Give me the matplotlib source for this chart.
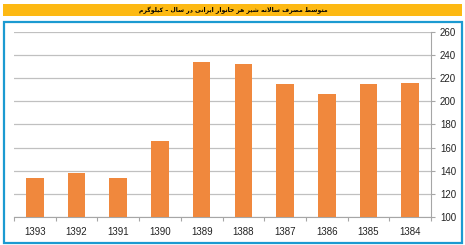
import matplotlib
matplotlib.use("Agg")
import matplotlib.pyplot as plt
from matplotlib.patches import Rectangle

# data
years = ["1393", "1392", "1391", "1390", "1389", "1388", "1387", "1386", "1385", "1384"]
milk_kg = [134, 138, 134, 166, 234, 232, 215, 206, 215, 216]
y_ticks = [100, 120, 140, 160, 180, 200, 220, 240, 260]
title = "متوسط مصرف سالانه شیر هر خانوار ایرانی در سال – کیلوگرم"


# matplotlib has no arabic shaping, so pick presentation forms by hand
# (isolated, final, initial, medial); None = right-joining only
forms = {
    'ا': ('\uFE8D', '\uFE8E', None, None),
    'د': ('\uFEA9', '\uFEAA', None, None),
    'ر': ('\uFEAD', '\uFEAE', None, None),
    'و': ('\uFEED', '\uFEEE', None, None),
    'ت': ('\uFE95', '\uFE96', '\uFE97', '\uFE98'),
    'خ': ('\uFEA5', '\uFEA6', '\uFEA7', '\uFEA8'),
    'س': ('\uFEB1', '\uFEB2', '\uFEB3', '\uFEB4'),
    'ش': ('\uFEB5', '\uFEB6', '\uFEB7', '\uFEB8'),
    'ص': ('\uFEB9', '\uFEBA', '\uFEBB', '\uFEBC'),
    'ط': ('\uFEC1', '\uFEC2', '\uFEC3', '\uFEC4'),
    'ف': ('\uFED1', '\uFED2', '\uFED3', '\uFED4'),
    'ل': ('\uFEDD', '\uFEDE', '\uFEDF', '\uFEE0'),
    'م': ('\uFEE1', '\uFEE2', '\uFEE3', '\uFEE4'),
    'ن': ('\uFEE5', '\uFEE6', '\uFEE7', '\uFEE8'),
    'ه': ('\uFEE9', '\uFEEA', '\uFEEB', '\uFEEC'),
    'ی': ('\uFBFC', '\uFBFD', '\uFBFE', '\uFBFF'),
    'ک': ('\uFB8E', '\uFB8F', '\uFB90', '\uFB91'),
    'گ': ('\uFB92', '\uFB93', '\uFB94', '\uFB95'),
}


def dual(c):
    return c in forms and forms[c][2] is not None


def shape(s):
    out = []
    i = 0
    while i < len(s):
        c = s[i]
        prev = s[i - 1] if i > 0 else ''
        nxt = s[i + 1] if i + 1 < len(s) else ''
        jp = dual(prev)
        if c == 'ل' and nxt == 'ا':
            out.append('\uFEFC' if jp else '\uFEFB')
            i += 2
            continue
        if c not in forms:
            out.append(c)
            i += 1
            continue
        jn = dual(c) and nxt in forms
        f = forms[c]
        if jp and jn:
            out.append(f[3])
        elif jp:
            out.append(f[1])
        elif jn:
            out.append(f[2])
        else:
            out.append(f[0])
        i += 1
    return ''.join(out)[::-1]


W, H = 465, 245
fig = plt.figure(figsize=(W / 100, H / 100), dpi=100)

# yellow title band and blue frame
fig.patches.append(Rectangle((3 / W, 1 - 16 / H), 459 / W, 12 / H, transform=fig.transFigure,
                             facecolor="#FDB913", edgecolor="none"))
fig.patches.append(Rectangle((3.5 / W, 2.5 / H), 458 / W, 220 / H, transform=fig.transFigure,
                             facecolor="none", edgecolor="#1B9AD1", linewidth=1.6))
fig.text(233 / W, 1 - 10.5 / H, shape(title), ha="center", va="center",
         fontsize=4.4, fontweight="bold", family="DejaVu Sans", color="black")

ax = fig.add_axes([14 / W, 28 / H, 417 / W, 185 / H])
ax.patch.set_alpha(0)
x = range(len(years))
ax.bar(x, [v - 100 for v in milk_kg], bottom=100, width=0.42, color="#F0883D", zorder=3)

ax.set_xlim(-0.5, len(years) - 0.5)
ax.set_ylim(100, 260)
ax.set_yticks(y_ticks)
ax.yaxis.tick_right()
ax.set_xticks(list(x))
ax.set_xticklabels(years, family="Liberation Sans")
ax.set_yticklabels([str(v) for v in y_ticks], family="Liberation Sans")
ax.set_xticks([i - 0.5 for i in range(len(years) + 1)], minor=True)
ax.tick_params(axis="x", which="major", length=0, pad=7, labelsize=7, colors="#222222")
ax.tick_params(axis="x", which="minor", length=3, color="#A6A6A6", width=0.8)
ax.tick_params(axis="y", length=3, color="#A6A6A6", width=0.8, labelsize=7,
               labelcolor="#222222", pad=3.5)
ax.grid(axis="y", color="#C0C0C0", linewidth=0.9, zorder=0)
for side in ["top", "left"]:
    ax.spines[side].set_visible(False)
for side in ["bottom", "right"]:
    ax.spines[side].set_color("#A6A6A6")
    ax.spines[side].set_linewidth(0.8)

fig.savefig("out.png", dpi=100)
